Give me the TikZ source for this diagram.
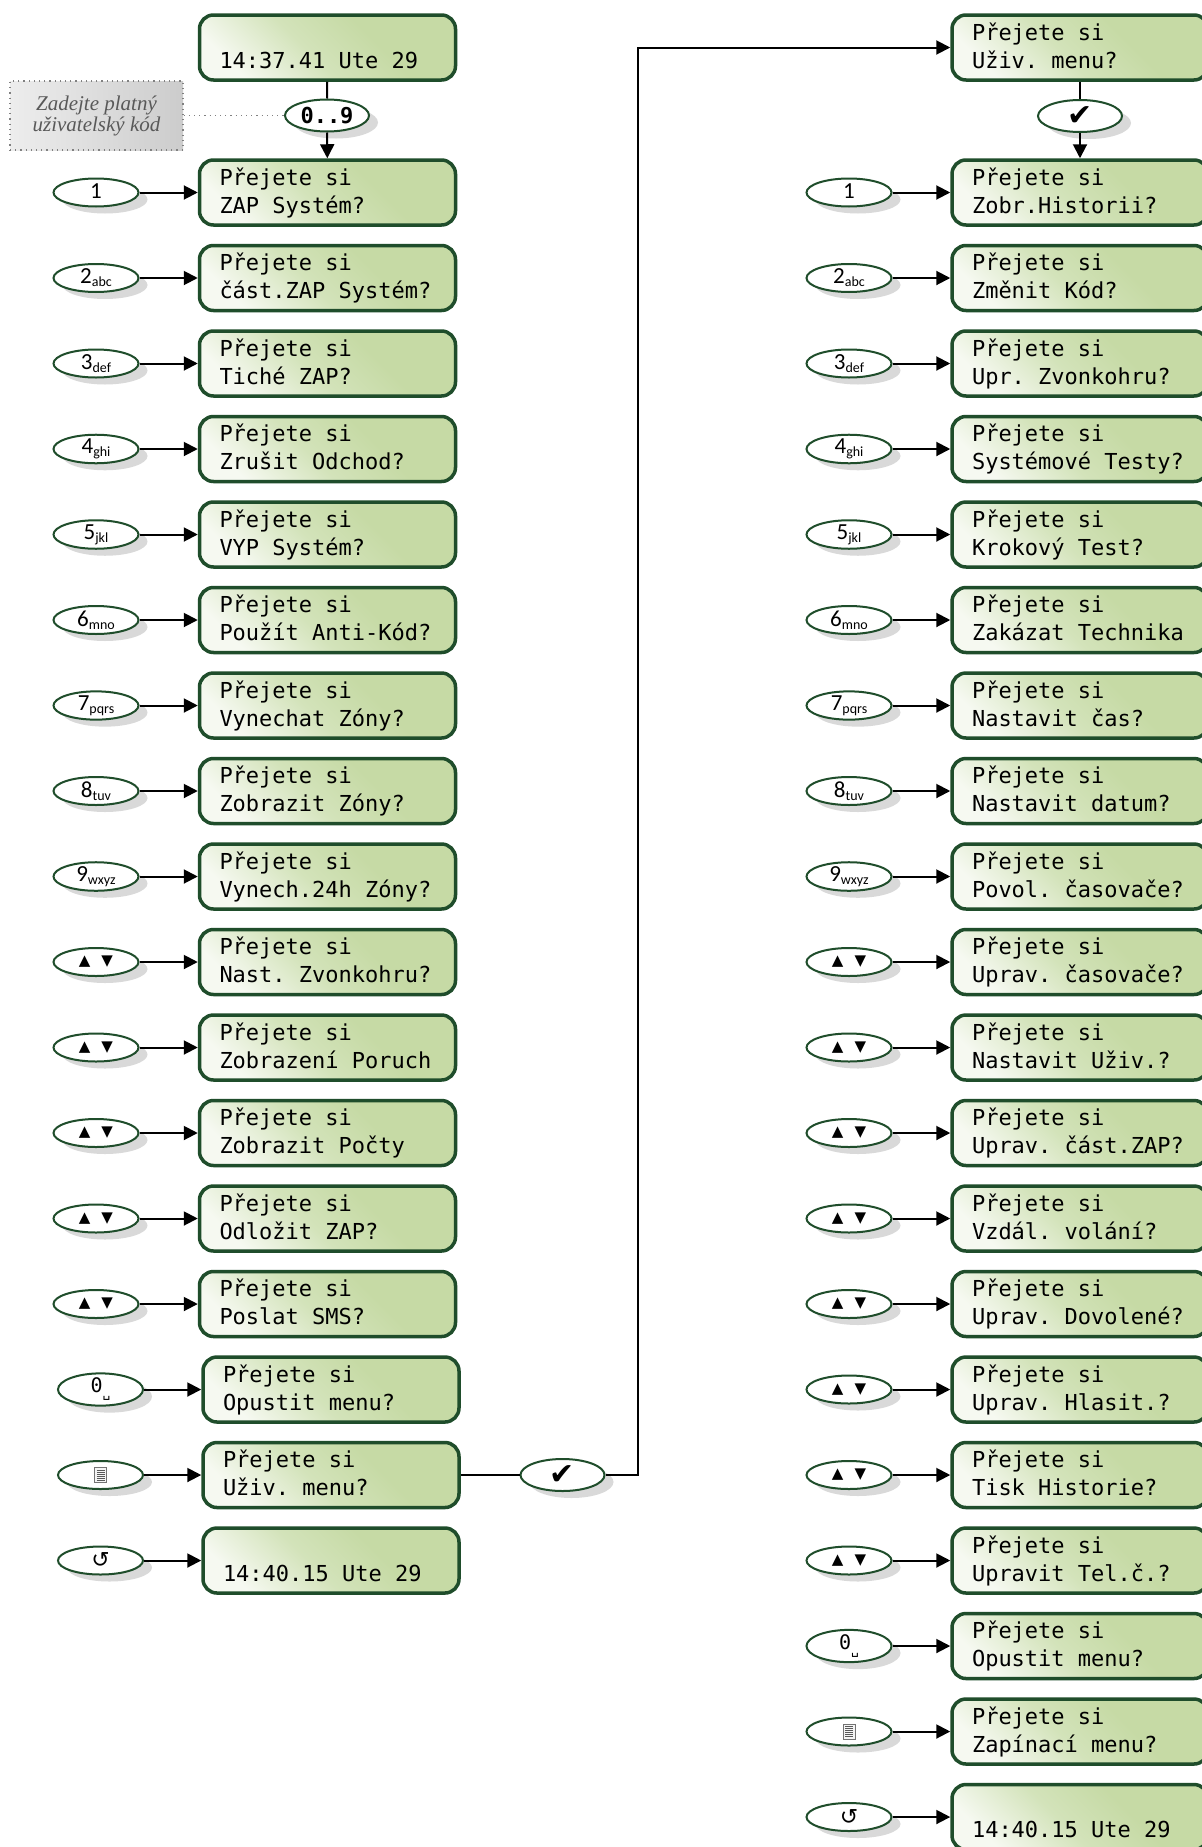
\documentclass[tikz,border=0pt]{standalone}
\usepackage{fontspec}
\usetikzlibrary{shapes.geometric,shadows,arrows.meta}
\newfontfamily\lcdfont{DejaVu Sans Mono}
\newfontfamily\keyfont{Carlito}
\newfontfamily\symfont{DejaVu Sans}
\newfontfamily\notefont{Liberation Serif}
\definecolor{framegreen}{HTML}{1F4D2B}
\definecolor{boxgreen}{HTML}{C6DAA5}
\definecolor{boxmid}{HTML}{D3E3BA}
\definecolor{boxlight}{HTML}{F6F9F1}
\pgfdeclareverticalshading{lcdshade}{100bp}{color(0bp)=(boxlight); color(25bp)=(boxlight); color(45bp)=(boxmid); color(62bp)=(boxgreen); color(100bp)=(boxgreen)}
% two-line display text, full-width spaces as on a character display
\newcommand\lcdtext[2]{\spaceskip=\fontdimen2\font\xspaceskip=\fontdimen2\font\relax
  \rule{0pt}{12.5pt}#1\\#2\rule[-6pt]{0pt}{6pt}}
% keypad labels
\newcommand\kd[2]{{\keyfont\fontsize{11.5}{13}\selectfont #1}\raisebox{-1.5pt}{\keyfont\fontsize{7}{8}\selectfont #2}}
\newcommand\kud{{\symfont\fontsize{7.5}{8}\selectfont ▲\hspace{5.5pt}▼}}
\newcommand\kzero{{\lcdfont\fontsize{10}{11}\selectfont 0}\raisebox{-2.5pt}{\lcdfont\fontsize{6.5}{7}\selectfont ␣}}
\newcommand\kreset{{\symfont\fontsize{11}{12}\selectfont ↺}}
\newcommand\chkmark{{\symfont\fontsize{15}{16}\selectfont ✔}}
\tikzset{
  lcd/.style={draw=framegreen, line width=1.75pt, rounded corners=7pt, shade, shading=lcdshade, shading angle=-45,
    align=left, text width=108pt, inner xsep=10pt, inner ysep=0pt, font=\lcdfont\fontsize{11}{14}\selectfont},
  keyoval/.style={ellipse, draw=framegreen, line width=1pt, fill=white, minimum width=42.5pt, minimum height=14pt,
    inner sep=0pt, drop shadow={shadow xshift=4.5pt, shadow yshift=-3.5pt, fill=black!15, opacity=1}},
  bigoval/.style={keyoval, minimum width=42pt, minimum height=16pt},
  notebox/.style={draw=black!50, dotted, line width=0.6pt, shade, left color=black!7, right color=black!20,
    minimum width=86.5pt, minimum height=34.5pt, align=center, text=black!65,
    font=\notefont\itshape\fontsize{10.5}{10.5}\selectfont},
  conn/.style={line width=1pt, black},
  arr/.style={conn, -{Triangle[length=7pt,width=7pt]}},
  menuicon/.pic={
    \draw[black!55, line width=0.4pt, fill=black!4] (-6,-7.5) rectangle (6,7.5);
    \foreach \yy in {-5,-3,-1,1,3,5} \draw[black!65, line width=0.5pt] (-4,\yy) -- (4,\yy);
  }
}
\begin{document}
\begin{tikzpicture}[x=0.5pt, y=-0.5pt]
\fill[white] (0,0) rectangle (1202,1847);
\useasboundingbox (0,0) rectangle (1202,1847);

% ---------- main menu column ----------
\node[lcd] (clockA) at (327.5,47.5) {\lcdtext{}{14:37.41 Ute 29}};
\node[bigoval] (code) at (327,115.5) {\lcdfont\bfseries\fontsize{11}{12}\selectfont 0..9};
\node[notebox] (hint) at (96.5,115.5) {Zadejte platný\\uživatelský kód};
\draw[black!50, dotted, line width=0.6pt] (hint.east) -- (code.west);

\foreach \row/\kl/\txt in {
  0/{\kd{1}{}}/ZAP Systém?,
  1/{\kd{2}{abc}}/část.ZAP Systém?,
  2/{\kd{3}{def}}/Tiché ZAP?,
  3/{\kd{4}{ghi}}/Zrušit Odchod?,
  4/{\kd{5}{jkl}}/VYP Systém?,
  5/{\kd{6}{mno}}/Použít Anti-Kód?,
  6/{\kd{7}{pqrs}}/Vynechat Zóny?,
  7/{\kd{8}{tuv}}/Zobrazit Zóny?,
  8/{\kd{9}{wxyz}}/Vynech.24h Zóny?,
  9/\kud/Nast. Zvonkohru?,
  10/\kud/Zobrazení Poruch,
  11/\kud/Zobrazit Počty,
  12/\kud/Odložit ZAP?,
  13/\kud/Poslat SMS?}{
  \node[keyoval] (KL\row) at (96,{192.5+\row*85.5}) {\kl};
  \node[lcd] (BL\row) at (327.5,{192.5+\row*85.5}) {\lcdtext{Přejete si}{\txt}};
  \draw[arr] (KL\row) -- (BL\row);
}
\node[keyoval] (KL14) at (100.5,1389.5) {\kzero};
\node[lcd] (BL14) at (331,1389.5) {\lcdtext{Přejete si}{Opustit menu?}};
\node[keyoval] (KL15) at (100.5,1475) {};
\pic at (KL15.center) {menuicon};
\node[lcd] (BL15) at (331,1475) {\lcdtext{Přejete si}{Uživ. menu?}};
\node[keyoval] (KL16) at (100.5,1560.5) {\kreset};
\node[lcd] (BL16) at (331,1560.5) {\lcdtext{}{14:40.15 Ute 29}};
\foreach \row in {14,15,16} \draw[arr] (KL\row) -- (BL\row);

\draw[conn] (clockA) -- (code);
\draw[arr] (code) -- (BL0);

% ---------- user menu column ----------
\node[lcd] (userTop) at (1080,47.5) {\lcdtext{Přejete si}{Uživ. menu?}};
\node[bigoval] (okR) at (1080,116) {\chkmark};
\draw[conn] (userTop) -- (okR);

\foreach \row/\kl/\txt in {
  0/{\kd{1}{}}/Zobr.Historii?,
  1/{\kd{2}{abc}}/Změnit Kód?,
  2/{\kd{3}{def}}/Upr. Zvonkohru?,
  3/{\kd{4}{ghi}}/Systémové Testy?,
  4/{\kd{5}{jkl}}/Krokový Test?,
  5/{\kd{6}{mno}}/Zakázat Technika,
  6/{\kd{7}{pqrs}}/Nastavit čas?,
  7/{\kd{8}{tuv}}/Nastavit datum?,
  8/{\kd{9}{wxyz}}/Povol. časovače?,
  9/\kud/Uprav. časovače?,
  10/\kud/Nastavit Uživ.?,
  11/\kud/Uprav. část.ZAP?,
  12/\kud/Vzdál. volání?,
  13/\kud/Uprav. Dovolené?,
  14/\kud/Uprav. Hlasit.?,
  15/\kud/Tisk Historie?,
  16/\kud/Upravit Tel.č.?,
  17/\kzero/Opustit menu?,
  18/{}/Zapínací menu?}{
  \node[keyoval] (KR\row) at (849,{192.5+\row*85.5}) {\kl};
  \node[lcd] (BR\row) at (1080,{192.5+\row*85.5}) {\lcdtext{Přejete si}{\txt}};
  \draw[arr] (KR\row) -- (BR\row);
}
\pic at (KR18.center) {menuicon};
\node[keyoval] (KR19) at (849,1817) {\kreset};
\node[lcd] (BR19) at (1080,1817) {\lcdtext{}{14:40.15 Ute 29}};
\draw[arr] (KR19) -- (BR19);
\draw[arr] (okR) -- (BR0);

% ---------- link between the two menus ----------
\node[bigoval] (okL) at (562.5,1475) {\chkmark};
\coordinate (bend) at (638,1475);
\draw[conn] (BL15) -- (okL);
\draw[arr] (okL) -- (bend) |- (userTop);
\end{tikzpicture}
\end{document}
